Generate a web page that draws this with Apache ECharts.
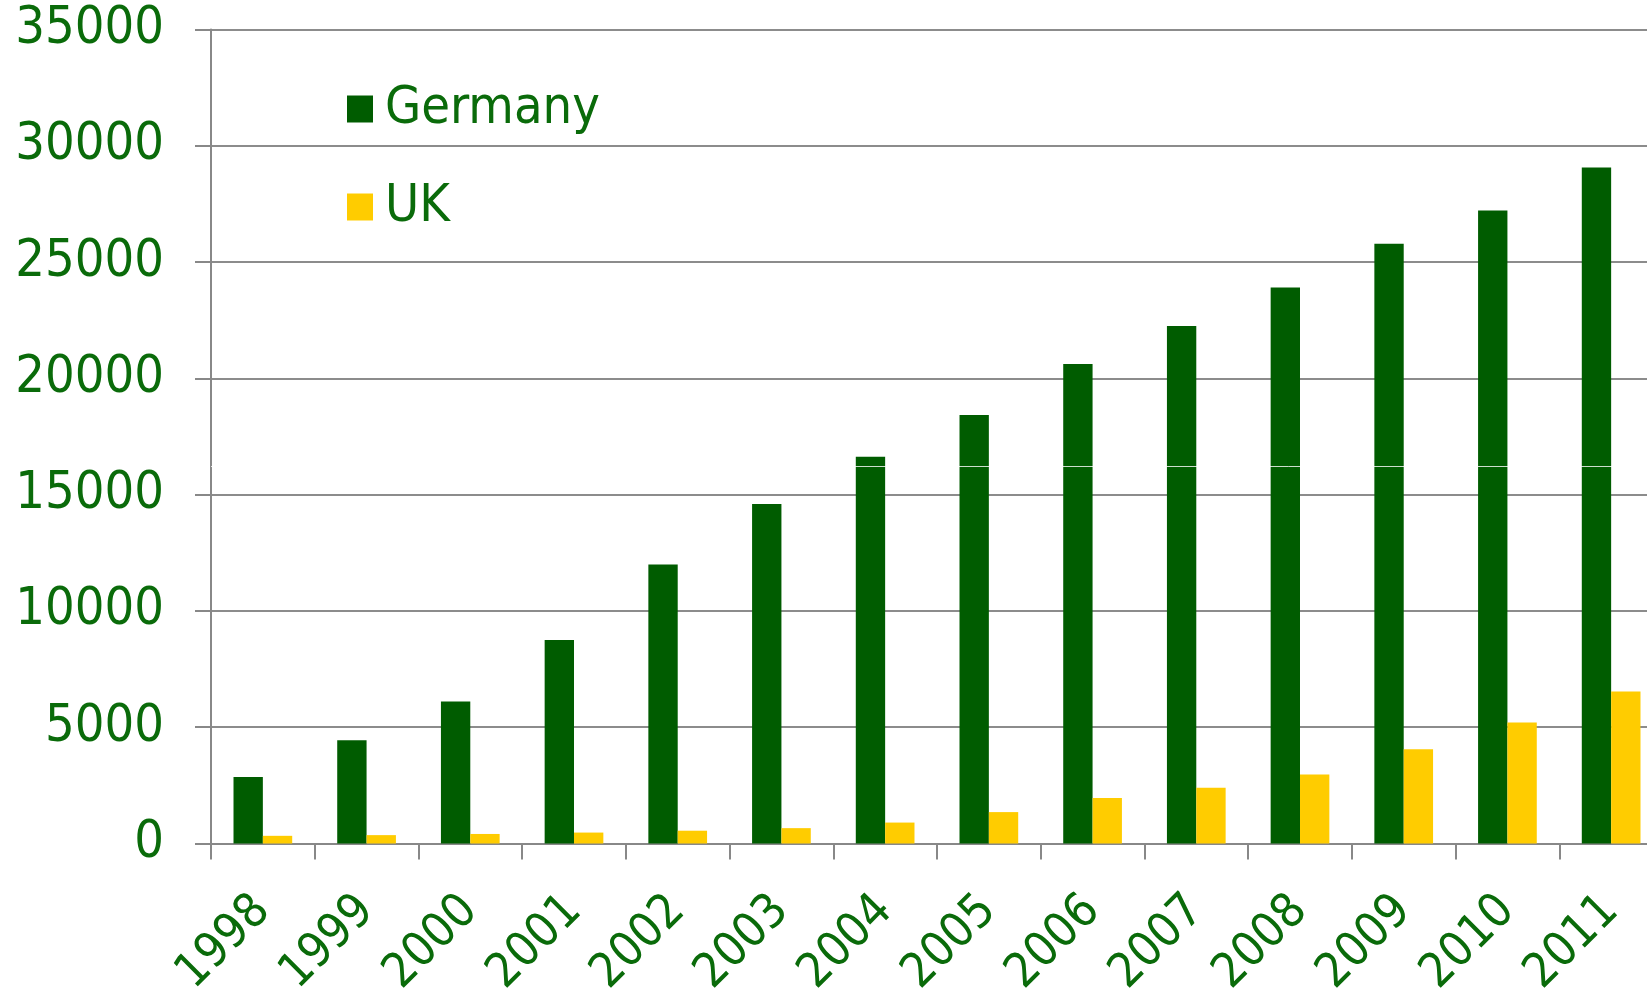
<!DOCTYPE html>
<html>
<head>
<meta charset="utf-8">
<script src="https://cdn.jsdelivr.net/npm/echarts@6/dist/echarts.min.js"></script>
<style>
  html, body { margin: 0; padding: 0; background: #fff; }
  #main { width: 1647px; height: 994px; }
</style>
</head>
<body>
<div id="main"></div>
<script>
// 年份
const years = ['1998', '1999', '2000', '2001', '2002', '2003', '2004',
  '2005', '2006', '2007', '2008', '2009', '2010', '2011'];
// 装机容量 (MW)
const germany = [2860, 4440, 6100, 8750, 12000, 14600, 16630,
  18420, 20620, 22250, 23900, 25780, 27210, 29060];
const uk = [330, 360, 410, 470, 550, 660, 900,
  1350, 1960, 2400, 2970, 4050, 5200, 6540];
const yTicks = [0, 5000, 10000, 15000, 20000, 25000, 30000, 35000];
// white seam across the tall bars in the original
const seamValue = 16200;

const textGreen = '#0a6b0a';
const font = 'DejaVu Sans Condensed';

let myChart = echarts.init(document.getElementById('main'));
const option = {
  animation: false,
  color: ['#005c00', '#ffcc00'],
  textStyle: { fontFamily: font },
  legend: {
    orient: 'vertical',
    left: 342,
    top: 78,
    itemWidth: 26,
    itemHeight: 27,
    itemGap: 46,
    icon: 'rect',
    textStyle: { color: textGreen, fontSize: 52, fontFamily: font, padding: [0, 0, 0, 7] },
    data: ['Germany', 'UK']
  },
  grid: {
    left: 211,
    right: -16,
    top: 29.4,
    bottom: 994 - 843.5,
    containLabel: false,
    outerBoundsMode: 'none'
  },
  xAxis: {
    type: 'category',
    data: years,
    axisLine: { lineStyle: { color: '#888', width: 2 } },
    axisTick: { show: true, length: 16, lineStyle: { color: '#888', width: 2 } },
    axisLabel: {
      rotate: 45,
      margin: 60,
      color: textGreen,
      fontSize: 48,
      fontFamily: font
    }
  },
  yAxis: {
    type: 'value',
    min: yTicks[0],
    max: yTicks[yTicks.length - 1],
    interval: yTicks[1] - yTicks[0],
    axisLine: { show: true, lineStyle: { color: '#888', width: 2 } },
    axisTick: { show: true, length: 16, lineStyle: { color: '#888', width: 2 } },
    splitLine: { lineStyle: { color: '#8c8c8c', width: 2 } },
    axisLabel: {
      margin: 47,
      color: textGreen,
      fontSize: 52,
      fontFamily: font,
      formatter: function (v) { return String(v); }
    }
  },
  series: [
    {
      name: 'Germany',
      type: 'bar',
      data: germany,
      barWidth: '28.3%',
      barGap: '0%',
      markLine: {
        silent: true,
        symbol: 'none',
        label: { show: false },
        lineStyle: { color: '#ffffff', width: 1, type: 'solid', opacity: 0.8 },
        data: [{ yAxis: seamValue }]
      }
    },
    {
      name: 'UK',
      type: 'bar',
      data: uk,
      barWidth: '28.3%',
      barGap: '0%'
    }
  ]
};
myChart.setOption(option);
</script>
</body>
</html>
